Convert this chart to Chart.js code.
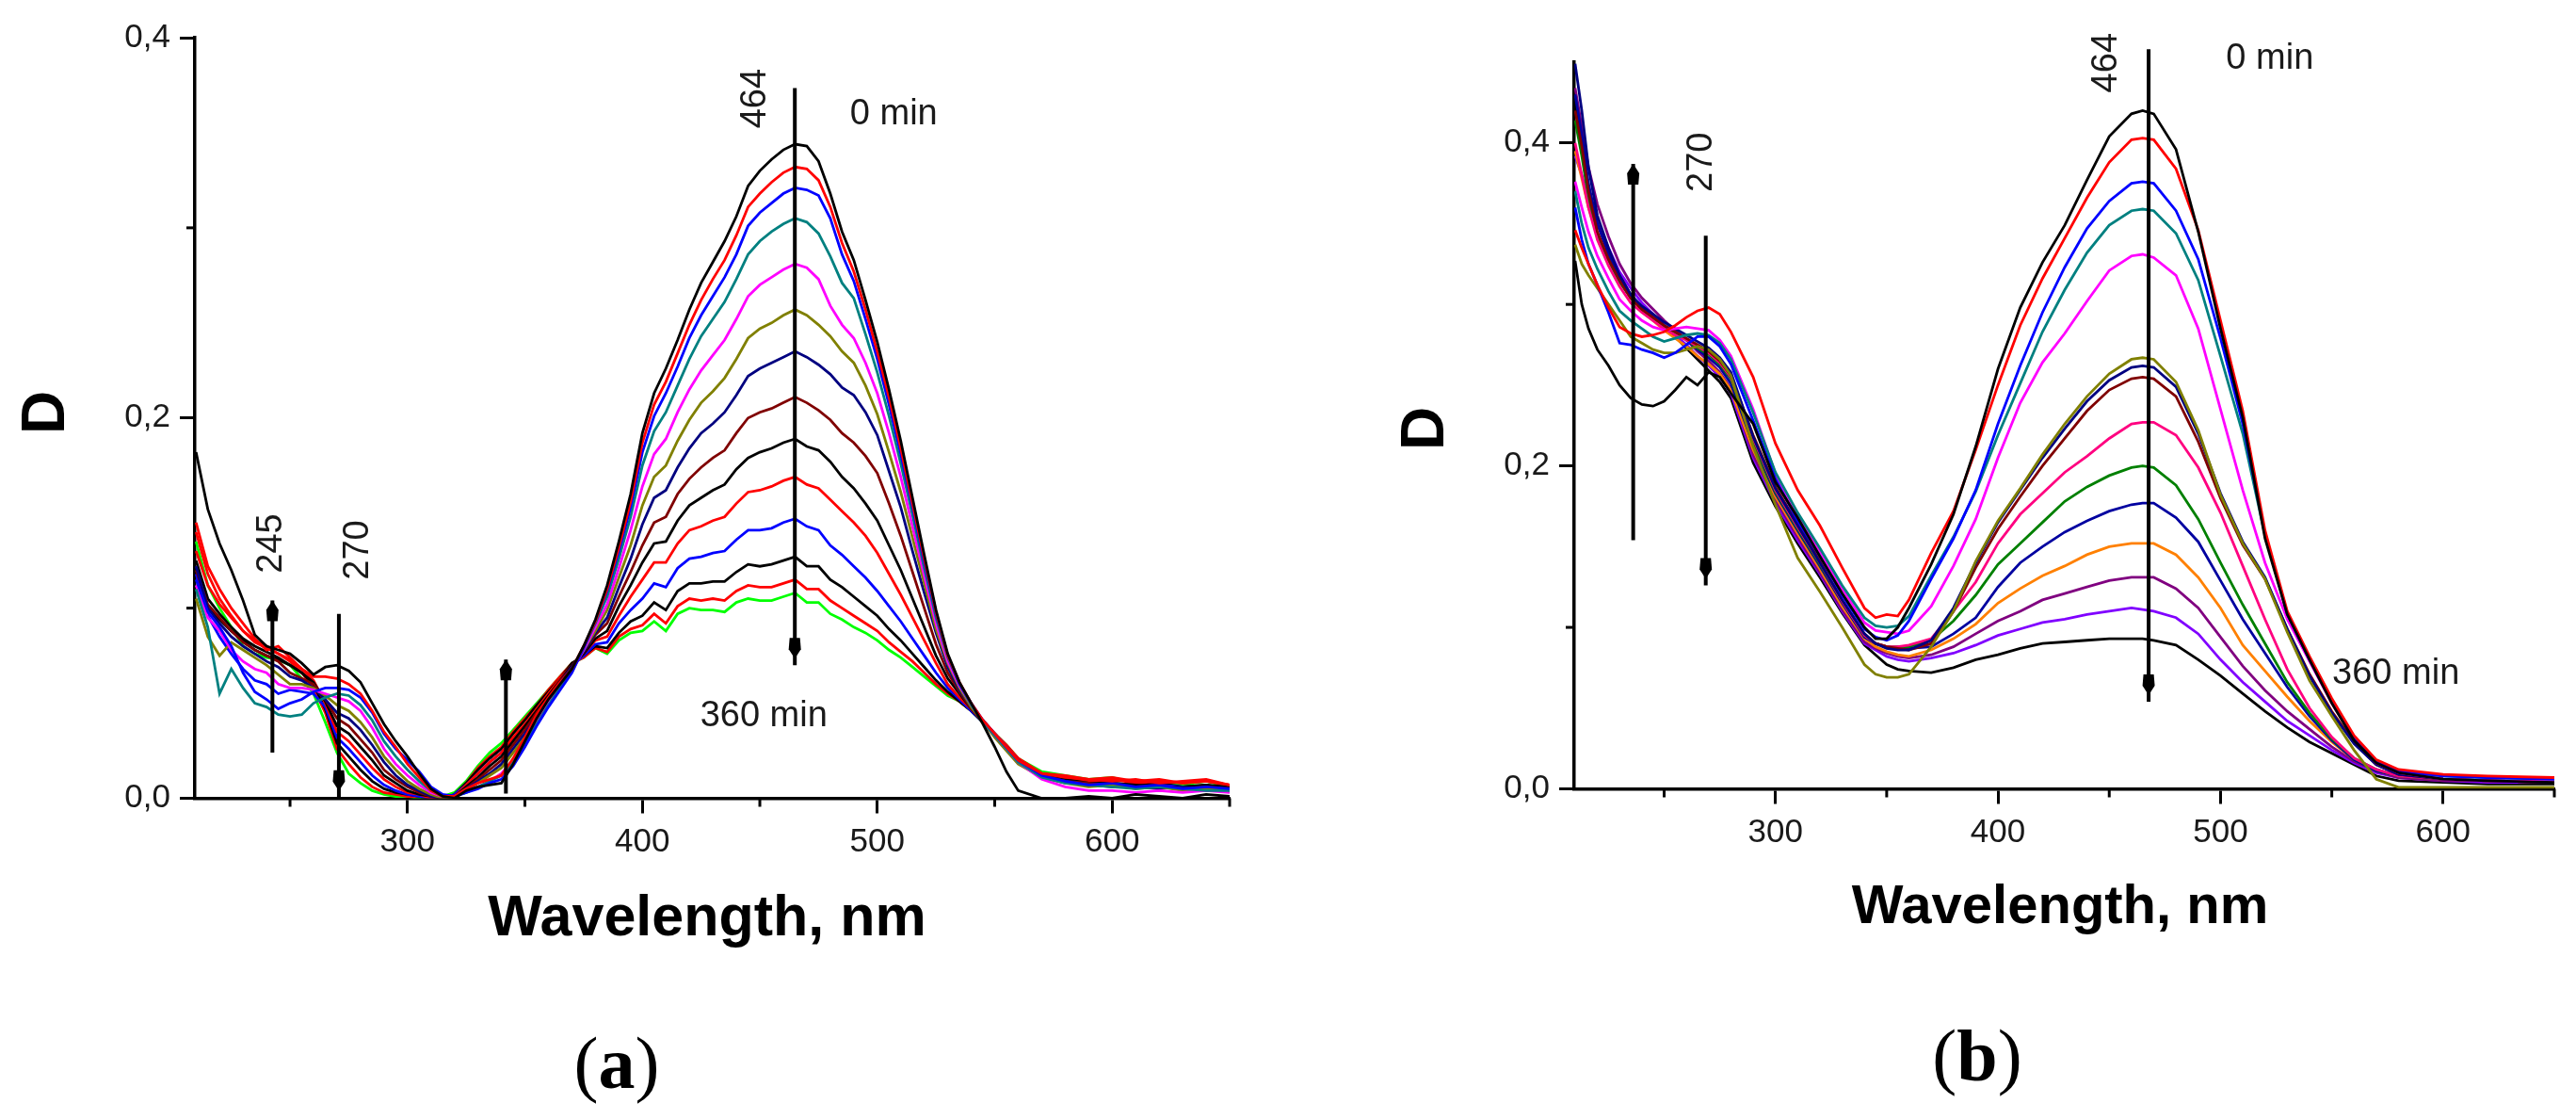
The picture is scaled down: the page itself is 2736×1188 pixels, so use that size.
<!DOCTYPE html>
<html><head><meta charset="utf-8">
<script src="https://cdn.jsdelivr.net/npm/chart.js@4.4.1/dist/chart.umd.min.js"></script>
<style>
html,body{margin:0;padding:0;background:#fff;}
#wrap{position:relative;width:2736px;height:1188px;background:#fff;}
.pane{position:absolute;top:0;width:1368px;height:1188px;}
canvas{display:block;}
</style></head><body>
<div id="wrap">
<div class="pane" style="left:0"><canvas id="ca" width="1368" height="1188" style="width:1368px;height:1188px"></canvas></div>
<div class="pane" style="left:1368px"><canvas id="cb" width="1368" height="1188" style="width:1368px;height:1188px"></canvas></div>
</div>
<script>
// ---------- Panel (a) ----------
const gridA = [210,215,220,225,230,235,240,245,250,255,260,265,270,275,280,285,290,295,300,305,310,315,320,
 325,330,335,340,345,350,355,360,365,370,
 375,380,385,390,395,400,405,410,415,420,425,430,435,440,445,450,455,460,465,470,475,480,485,490,495,500,505,510,515,520,525,530,535,540,545,550,555,560,
 570,580,590,600,610,620,630,640,650];

const a01_black = [.182,.152,.134,.120,.104,.086,.080,.078,.076,.071,.065,.069,.070,.067,.061,.050,.039,.030,.022,.013,.005,.001,.000,
 .004,.006,.007,.008,.018,.030,.042,.052,.060,.068,
 .080,.094,.112,.135,.160,.192,.213,.226,.241,.257,.271,.282,.293,.306,.322,.330,.336,.341,.344,.343,.335,.318,.298,.283,.262,.240,.215,.188,.158,.128,.099,.076,.061,.050,.039,.027,.014,.004,
 .000,.000,.001,.000,.002,.001,.000,.002,.001];
const a02_red = [.145,.122,.110,.100,.092,.084,.078,.080,.074,.068,.064,.064,.063,.060,.055,.046,.035,.027,.018,.011,.004,.001,.001,
 .005,.008,.010,.012,.021,.032,.044,.053,.061,.068,
 .080,.093,.110,.132,.156,.187,.207,.219,.234,.249,.262,.273,.283,.296,.311,.318,.324,.329,.332,.331,.325,.311,.292,.277,.257,.235,.211,.184,.155,.126,.098,.075,.061,.050,.041,.034,.027,.020,
 .013,.011,.010,.009,.010,.008,.009,.010,.007];
const a03_blue = [.115,.098,.090,.080,.066,.056,.052,.047,.050,.052,.056,.058,.058,.057,.053,.045,.034,.026,.020,.014,.006,.002,.001,
 .003,.005,.008,.010,.017,.027,.038,.048,.057,.066,
 .079,.093,.109,.130,.153,.182,.201,.213,.227,.242,.254,.264,.274,.286,.301,.308,.313,.318,.321,.320,.317,.305,.286,.272,.252,.231,.207,.181,.153,.124,.097,.075,.060,.050,.041,.034,.027,.020,
 .012,.009,.007,.008,.006,.007,.005,.006,.005];
const a04_teal = [.110,.090,.055,.068,.058,.050,.048,.044,.043,.044,.050,.053,.055,.054,.049,.041,.030,.022,.015,.009,.004,.001,.001,
 .003,.006,.009,.012,.019,.029,.039,.049,.058,.067,
 .079,.092,.106,.126,.148,.175,.193,.203,.217,.231,.243,.252,.261,.273,.286,.293,.298,.302,.305,.303,.297,.285,.271,.263,.244,.224,.201,.176,.149,.121,.095,.074,.060,.049,.040,.033,.026,.019,
 .011,.008,.007,.006,.005,.006,.005,.004,.004];
const a05_magenta = [.112,.095,.088,.078,.072,.068,.066,.060,.058,.058,.057,.055,.053,.051,.046,.037,.026,.018,.012,.007,.003,.001,.001,
 .004,.006,.009,.013,.020,.029,.040,.050,.059,.067,
 .078,.090,.102,.121,.141,.164,.181,.189,.203,.215,.225,.233,.241,.252,.264,.270,.274,.278,.281,.279,.273,.259,.249,.242,.229,.213,.192,.169,.143,.117,.092,.072,.059,.049,.040,.033,.026,.019,
 .010,.006,.004,.004,.003,.004,.003,.004,.003];
const a06_olive = [.105,.085,.075,.082,.078,.074,.070,.065,.060,.060,.058,.054,.049,.046,.040,.032,.022,.015,.009,.005,.002,.000,.001,
 .004,.008,.012,.016,.024,.032,.042,.051,.060,.068,
 .078,.088,.099,.116,.133,.154,.169,.175,.188,.199,.208,.214,.221,.231,.242,.247,.250,.254,.257,.254,.249,.243,.235,.229,.217,.202,.182,.161,.137,.113,.089,.071,.058,.048,.040,.032,.025,.018,
 .011,.008,.006,.007,.005,.006,.004,.005,.004];
const a07_navy = [.122,.100,.092,.085,.080,.076,.072,.069,.064,.062,.058,.052,.045,.042,.036,.028,.019,.012,.007,.004,.001,.000,.001,
 .005,.009,.013,.018,.026,.034,.043,.052,.061,.069,
 .077,.087,.095,.111,.126,.144,.158,.162,.174,.184,.192,.197,.203,.212,.222,.226,.229,.232,.235,.232,.228,.223,.216,.212,.203,.191,.172,.153,.130,.108,.087,.069,.057,.048,.041,.033,.026,.019,
 .012,.009,.007,.006,.006,.005,.006,.004,.005];
const a08_maroon = [.120,.102,.095,.088,.082,.078,.075,.072,.066,.063,.060,.052,.042,.038,.031,.024,.015,.010,.006,.003,.001,.000,.001,
 .005,.010,.015,.020,.028,.036,.045,.053,.062,.069,
 .077,.086,.092,.106,.119,.133,.145,.148,.160,.168,.174,.179,.183,.192,.200,.203,.205,.208,.211,.208,.204,.199,.192,.187,.180,.171,.155,.138,.119,.100,.081,.066,.056,.047,.040,.033,.026,.019,
 .012,.009,.008,.007,.006,.007,.005,.006,.005];
const a09_black = [.125,.105,.097,.090,.084,.080,.077,.074,.070,.066,.061,.051,.038,.034,.027,.020,.012,.008,.004,.002,.001,.000,.001,
 .006,.011,.017,.022,.030,.038,.046,.054,.062,.070,
 .076,.084,.088,.101,.112,.124,.134,.135,.146,.154,.158,.162,.165,.173,.179,.182,.184,.187,.189,.185,.183,.177,.169,.163,.155,.146,.133,.120,.105,.090,.075,.063,.055,.047,.040,.033,.026,.020,
 .012,.010,.008,.008,.007,.006,.006,.007,.005];
const a10_red = [.130,.112,.102,.095,.088,.083,.080,.076,.073,.068,.062,.050,.035,.030,.023,.016,.010,.006,.003,.002,.000,.000,.001,
 .007,.013,.019,.024,.032,.039,.047,.055,.063,.070,
 .076,.083,.085,.096,.106,.115,.124,.124,.134,.141,.143,.146,.148,.155,.161,.162,.164,.167,.169,.165,.163,.157,.151,.145,.138,.129,.118,.107,.095,.083,.071,.060,.053,.047,.041,.034,.027,.021,
 .013,.011,.009,.010,.008,.009,.008,.009,.007];
const a11_blue = [.118,.096,.085,.076,.068,.062,.060,.055,.057,.056,.055,.048,.032,.026,.019,.012,.007,.004,.002,.001,.000,.000,.002,
 .007,.013,.019,.024,.031,.038,.046,.054,.062,.070,
 .075,.081,.082,.092,.099,.105,.113,.111,.121,.126,.127,.129,.130,.136,.141,.141,.142,.145,.147,.143,.141,.133,.128,.122,.116,.109,.101,.093,.084,.075,.066,.058,.052,.046,.040,.034,.027,.020,
 .012,.009,.008,.007,.006,.007,.006,.006,.005];
const a12_black = [.118,.100,.094,.088,.083,.078,.075,.073,.070,.066,.060,.047,.029,.022,.015,.009,.005,.003,.002,.001,.000,.000,.002,
 .008,.015,.021,.026,.034,.041,.049,.056,.063,.071,
 .075,.080,.079,.087,.093,.096,.103,.099,.109,.113,.113,.114,.114,.119,.123,.122,.123,.125,.127,.122,.122,.115,.111,.106,.101,.096,.089,.083,.076,.069,.062,.056,.051,.046,.040,.033,.027,.020,
 .012,.010,.009,.008,.007,.008,.006,.007,.006];
const a13_red = [.140,.118,.105,.096,.088,.082,.079,.076,.072,.066,.058,.045,.026,.018,.011,.006,.003,.002,.001,.001,.000,.000,.002,
 .008,.016,.022,.027,.035,.042,.049,.057,.064,.071,
 .074,.079,.077,.085,.089,.091,.097,.092,.101,.105,.104,.105,.104,.109,.112,.111,.111,.113,.115,.110,.110,.104,.100,.096,.092,.088,.082,.077,.072,.066,.060,.055,.051,.046,.041,.034,.028,.021,
 .013,.012,.010,.011,.009,.010,.008,.009,.007];
const a14_green = [.135,.112,.100,.090,.080,.076,.074,.073,.070,.063,.055,.040,.024,.013,.008,.004,.002,.001,.001,.000,.000,.001,.003,
 .009,.017,.024,.029,.036,.043,.050,.057,.064,.071,
 .074,.079,.076,.083,.087,.088,.093,.088,.097,.100,.099,.099,.098,.103,.105,.104,.104,.106,.108,.103,.103,.097,.094,.090,.087,.083,.078,.074,.069,.064,.059,.054,.051,.046,.040,.034,.028,.021,
 .014,.012,.010,.011,.008,.009,.007,.009,.006];

const seriesA = [a01_black,a02_red,a03_blue,a04_teal,a05_magenta,a06_olive,a07_navy,a08_maroon,a09_black,a10_red,a11_blue,a12_black,a13_red,a14_green];
const colorsA = ['#000000','#ff0000','#0000ff','#008080','#ff00ff','#808000','#000080','#800000','#000000','#ff0000','#0000ff','#000000','#ff0000','#00ff00'];

// ---------- Panel (b) ----------
const gridB = [210,213,216,220,225,230,235,240,245,250,255,260,265,270,275,280,
 290,300,310,320,330,340,345,350,355,360,
 370,380,390,400,410,420,430,440,450,460,465,470,
 480,490,500,510,520,530,540,550,560,570,580,
 600,620,650];

const b01_black = [.327,.300,.285,.272,.262,.250,.242,.238,.237,.240,.247,.255,.250,.258,.255,.245,
 .226,.190,.168,.144,.121,.100,.093,.093,.100,.112,
 .139,.170,.212,.260,.298,.326,.349,.377,.404,.418,.420,.418,
 .396,.345,.285,.230,.155,.108,.080,.053,.030,.016,.010, .006,.005,.004];
const b02_red = [.346,.335,.325,.312,.298,.286,.282,.280,.281,.283,.287,.292,.296,.298,.294,.283,
 .255,.214,.185,.163,.137,.112,.106,.108,.107,.117,
 .146,.172,.210,.250,.287,.316,.341,.366,.388,.402,.403,.402,
 .384,.346,.290,.234,.160,.110,.082,.056,.033,.018,.012, .009,.008,.007];
const b03_blue = [.360,.340,.325,.312,.295,.276,.275,.272,.270,.267,.270,.275,.280,.280,.274,.263,
 .228,.192,.166,.144,.120,.099,.094,.092,.095,.104,
 .130,.155,.185,.226,.262,.295,.323,.347,.364,.375,.376,.375,
 .358,.328,.279,.226,.158,.108,.080,.054,.031,.017,.011, .008,.007,.006];
const b04_teal = [.370,.350,.335,.322,.308,.296,.290,.285,.280,.277,.279,.281,.282,.281,.276,.266,
 .233,.196,.171,.149,.126,.106,.101,.100,.101,.107,
 .132,.156,.184,.219,.251,.283,.309,.332,.349,.358,.359,.358,
 .344,.315,.268,.220,.157,.109,.081,.055,.032,.017,.011, .008,.007,.006];
const b05_magenta = [.376,.360,.345,.330,.316,.303,.296,.290,.286,.284,.285,.286,.285,.284,.278,.268,
 .235,.195,.169,.147,.124,.103,.098,.097,.096,.098,
 .113,.138,.167,.205,.239,.264,.282,.302,.321,.330,.331,.329,
 .318,.285,.235,.185,.140,.105,.079,.053,.031,.016,.010, .006,.005,.005];
const b06_olive = [.337,.325,.318,.310,.300,.290,.280,.276,.272,.270,.270,.272,.274,.272,.266,.256,
 .212,.176,.143,.122,.100,.077,.071,.069,.069,.071,
 .088,.110,.141,.166,.186,.207,.226,.243,.257,.266,.267,.266,
 .252,.222,.182,.152,.130,.097,.067,.045,.024,.006,.001, .001,.001,.001];
const b07_navy = [.449,.420,.385,.355,.335,.318,.306,.299,.294,.289,.285,.281,.277,.273,.267,.258,
 .218,.186,.163,.140,.117,.096,.090,.087,.086,.086,
 .092,.112,.140,.165,.185,.205,.223,.240,.253,.261,.262,.261,
 .249,.220,.183,.153,.131,.099,.070,.047,.028,.015,.009, .006,.005,.004];
const b08_maroon = [.420,.398,.370,.345,.328,.315,.304,.297,.292,.287,.283,.279,.275,.271,.265,.256,
 .219,.187,.164,.141,.117,.096,.090,.088,.087,.086,
 .090,.110,.137,.161,.181,.200,.217,.234,.247,.254,.255,.254,
 .243,.215,.180,.151,.130,.099,.071,.048,.029,.015,.009, .006,.005,.004];
const b09_rose = [.400,.380,.360,.340,.324,.311,.301,.295,.290,.285,.281,.278,.274,.270,.264,.255,
 .217,.185,.162,.140,.116,.095,.090,.088,.088,.089,
 .093,.110,.128,.152,.170,.183,.196,.206,.217,.226,.227,.227,
 .219,.199,.171,.138,.105,.074,.050,.032,.019,.012,.008, .006,.005,.004];
const b10_green = [.414,.392,.366,.342,.327,.314,.304,.297,.291,.286,.282,.278,.273,.269,.263,.254,
 .215,.184,.161,.139,.116,.095,.090,.088,.088,.088,
 .092,.104,.120,.139,.152,.165,.178,.187,.194,.199,.200,.199,
 .188,.167,.140,.114,.090,.066,.047,.031,.019,.012,.008, .006,.005,.004];
const b11_navy = [.430,.405,.375,.350,.331,.316,.306,.298,.292,.287,.283,.278,.272,.267,.261,.251,
 .213,.183,.160,.138,.115,.094,.090,.088,.087,.087,
 .088,.096,.106,.125,.140,.150,.159,.166,.172,.176,.177,.177,
 .168,.153,.129,.105,.084,.063,.045,.030,.018,.011,.008, .006,.005,.004];
const b12_orange = [.395,.378,.360,.343,.328,.314,.304,.296,.290,.284,.279,.274,.268,.263,.257,.247,
 .210,.181,.158,.136,.113,.093,.088,.085,.083,.082,
 .086,.093,.102,.115,.124,.132,.138,.145,.150,.152,.152,.152,
 .145,.131,.112,.089,.073,.057,.042,.029,.018,.011,.008, .006,.005,.004];
const b13_purple = [.434,.410,.385,.362,.342,.325,.313,.304,.297,.290,.284,.278,.271,.265,.258,.248,
 .207,.179,.156,.134,.111,.091,.087,.084,.082,.081,
 .083,.088,.096,.104,.110,.117,.121,.125,.129,.131,.131,.131,
 .124,.112,.094,.076,.061,.048,.037,.026,.017,.011,.007, .005,.005,.004];
const b14_violet = [.392,.380,.365,.350,.335,.320,.310,.301,.294,.287,.281,.275,.268,.262,.255,.245,
 .205,.177,.154,.133,.110,.090,.086,.082,.080,.079,
 .081,.084,.089,.095,.099,.103,.105,.108,.110,.112,.111,.110,
 .106,.096,.080,.066,.054,.042,.033,.024,.016,.010,.007, .005,.004,.004];
const b15_black = [.425,.400,.372,.350,.333,.318,.306,.298,.292,.286,.280,.273,.266,.259,.252,.242,
 .202,.175,.152,.131,.109,.089,.083,.077,.074,.073,
 .072,.075,.080,.083,.087,.090,.091,.092,.093,.093,.093,.092,
 .089,.080,.070,.059,.048,.038,.029,.022,.015,.008,.005, .004,.003,.003];

const seriesB = [b01_black,b02_red,b03_blue,b04_teal,b05_magenta,b06_olive,b07_navy,b08_maroon,b09_rose,b10_green,b11_navy,b12_orange,b13_purple,b14_violet,b15_black];
const colorsB = ['#000000','#ff0000','#0000ff','#008080','#ff00ff','#808000','#000080','#800000','#ff0080','#008000','#0000a0','#ff8000','#800080','#8000ff','#000000'];

// ---------- ticks ----------
const xTicks = [250,300,350,400,450,500,550,600,650];
const xMinor = [250,350,450,550,650];
const yTicks = [0,0.1,0.2,0.3,0.4];
const yMinor = [0.1,0.3];

const FONT = "'Liberation Sans', Arial, Helvetica, sans-serif";
const SERIF = "'Liberation Serif', 'Times New Roman', serif";
const isMajX = v => Math.abs(v % 100) < 1e-6;
const isMajY = v => Math.round(v * 10) % 2 === 0;

function decor(cfg) {
  return {
    id: 'decor',
    afterDraw(chart) {
      const ctx = chart.ctx, xs = chart.scales.x, ys = chart.scales.y, ca = chart.chartArea;
      const X = v => xs.getPixelForValue(v), Y = v => ys.getPixelForValue(v);
      ctx.save();
      // minor ticks
      ctx.strokeStyle = '#000'; ctx.lineWidth = 3;
      xMinor.forEach(v => { const x = X(v); ctx.beginPath(); ctx.moveTo(x, ca.bottom); ctx.lineTo(x, ca.bottom + 9); ctx.stroke(); });
      yMinor.forEach(v => { const y = Y(v); ctx.beginPath(); ctx.moveTo(ca.left, y); ctx.lineTo(ca.left - 9, y); ctx.stroke(); });
      // arrows
      ctx.lineWidth = 4; ctx.fillStyle = '#000';
      cfg.arrows.forEach(a => {
        const x = X(a.x), yt = Y(a.top), yb = Y(a.bot);
        ctx.beginPath(); ctx.moveTo(x, yt); ctx.lineTo(x, yb); ctx.stroke();
        ctx.beginPath();
        if (a.head === 'up') {
          const t = yt;
          ctx.moveTo(x, t); ctx.lineTo(x + 6.5, t + 10); ctx.lineTo(x + 5.5, t + 22); ctx.lineTo(x - 5.5, t + 22); ctx.lineTo(x - 6.5, t + 10);
        } else {
          const t = yb - 7;
          ctx.moveTo(x, t); ctx.lineTo(x + 6.5, t - 10); ctx.lineTo(x + 5.5, t - 22); ctx.lineTo(x - 5.5, t - 22); ctx.lineTo(x - 6.5, t - 10);
        }
        ctx.closePath(); ctx.fill();
      });
      // annotation texts
      ctx.fillStyle = '#1a1a1a'; ctx.font = '38px ' + FONT;
      cfg.labels.forEach(t => {
        ctx.save(); ctx.translate(X(t.x), Y(t.y));
        if (t.rot) { ctx.rotate(-Math.PI / 2); ctx.textAlign = 'center'; } else { ctx.textAlign = 'left'; }
        ctx.textBaseline = 'middle'; ctx.fillText(t.text, 0, 0); ctx.restore();
      });
      // axis titles
      ctx.fillStyle = '#000';
      ctx.save(); ctx.translate(cfg.dTitle.x, cfg.dTitle.y); ctx.rotate(-Math.PI / 2);
      ctx.font = 'bold 64px ' + FONT; ctx.textAlign = 'center'; ctx.textBaseline = 'alphabetic';
      ctx.fillText('D', 0, 23); ctx.restore();
      ctx.font = 'bold ' + cfg.wTitle.size + 'px ' + FONT; ctx.textAlign = 'center'; ctx.textBaseline = 'alphabetic';
      ctx.fillText('Wavelength, nm', cfg.wTitle.x, cfg.wTitle.y);
      // panel letter
      const p = cfg.panel;
      ctx.textAlign = 'left';
      const fN = '78px ' + SERIF, fB = 'bold 78px ' + SERIF;
      ctx.font = fN; const w1 = ctx.measureText('(').width, w3 = ctx.measureText(')').width;
      ctx.font = fB; const w2 = ctx.measureText(p.letter).width;
      let x0 = p.x - (w1 + w2 + w3) / 2;
      ctx.font = fN; ctx.fillText('(', x0, p.y);
      ctx.font = fB; ctx.fillText(p.letter, x0 + w1, p.y);
      ctx.font = fN; ctx.fillText(')', x0 + w1 + w2, p.y);
      ctx.restore();
    }
  };
}

function build(id, grid, series, colors, cfg) {
  const datasets = series.map((vals, i) => ({
    data: vals.map((v, j) => ({ x: grid[j], y: v })),
    borderColor: colors[i], borderWidth: 2.8, pointRadius: 0, fill: false, tension: 0
  }));
  return new Chart(document.getElementById(id), {
    type: 'line',
    data: { datasets },
    options: {
      responsive: false, animation: false, parsing: false, normalized: true,
      layout: { padding: cfg.padding },
      plugins: { legend: { display: false }, tooltip: { enabled: false } },
      scales: {
        x: {
          type: 'linear', min: cfg.xMin, max: 650,
          afterBuildTicks: s => { s.ticks = xTicks.map(v => ({ value: v })); },
          afterFit: s => { s.height = 100; },
          grid: { drawOnChartArea: false, drawTicks: true, tickLength: 16, tickWidth: 3,
                  tickColor: c => (c.tick && isMajX(c.tick.value)) ? '#000' : 'rgba(0,0,0,0)' },
          border: { display: true, color: '#000', width: 3.5 },
          ticks: { autoSkip: false, maxRotation: 0, minRotation: 0, padding: 10, color: '#1a1a1a',
                   font: { family: FONT, size: 35 }, callback: v => isMajX(v) ? String(v) : '' }
        },
        y: {
          type: 'linear', min: 0, max: cfg.yMax,
          afterBuildTicks: s => { s.ticks = yTicks.map(v => ({ value: v })); },
          afterFit: s => { s.width = cfg.yW; },
          grid: { drawOnChartArea: false, drawTicks: true, tickLength: 16, tickWidth: 3,
                  tickColor: c => (c.tick && isMajY(c.tick.value)) ? '#000' : 'rgba(0,0,0,0)' },
          border: { display: true, color: '#000', width: 3.5 },
          ticks: { autoSkip: false, padding: 10, color: '#1a1a1a', font: { family: FONT, size: 35 },
                   callback: v => isMajY(v) ? v.toFixed(1).replace('.', ',') : '' }
        }
      }
    },
    plugins: [decor(cfg)]
  });
}

build('ca', gridA, seriesA, colorsA, {
  padding: { left: 0, top: 40, right: 62, bottom: 240.5 }, yW: 207, xMin: 209.5, yMax: 0.4,
  arrows: [
    { x: 242.5, top: 0.104, bot: 0.024, head: 'up' },
    { x: 270.8, top: 0.097, bot: 0.0004, head: 'down' },
    { x: 341.9, top: 0.073, bot: 0.0025, head: 'up' },
    { x: 464.9, top: 0.3735, bot: 0.070, head: 'down' }
  ],
  labels: [
    { x: 242.0, y: 0.134, text: '245', rot: true },
    { x: 279.0, y: 0.1305, text: '270', rot: true },
    { x: 448, y: 0.368, text: '464', rot: true },
    { x: 488.4, y: 0.3595, text: '0 min' },
    { x: 424.6, y: 0.043, text: '360 min' }
  ],
  dTitle: { x: 45, y: 438 }, wTitle: { x: 751, y: 993, size: 61 }, panel: { x: 655, y: 1155, letter: 'a' }
});

build('cb', gridB, seriesB, colorsB, {
  padding: { left: 0, top: 66, right: 23, bottom: 250.5 }, yW: 304, xMin: 209.6, yMax: 0.45,
  arrows: [
    { x: 236.1, top: 0.387, bot: 0.154, head: 'up' },
    { x: 268.7, top: 0.3426, bot: 0.126, head: 'down' },
    { x: 467.7, top: 0.458, bot: 0.054, head: 'down' }
  ],
  labels: [
    { x: 266.8, y: 0.388, text: '270', rot: true },
    { x: 449, y: 0.4496, text: '464', rot: true },
    { x: 502.5, y: 0.452, text: '0 min' },
    { x: 550.2, y: 0.071, text: '360 min' }
  ],
  dTitle: { x: 142, y: 455 }, wTitle: { x: 820, y: 980, size: 58 }, panel: { x: 732, y: 1147, letter: 'b' }
});
</script>
</body></html>
